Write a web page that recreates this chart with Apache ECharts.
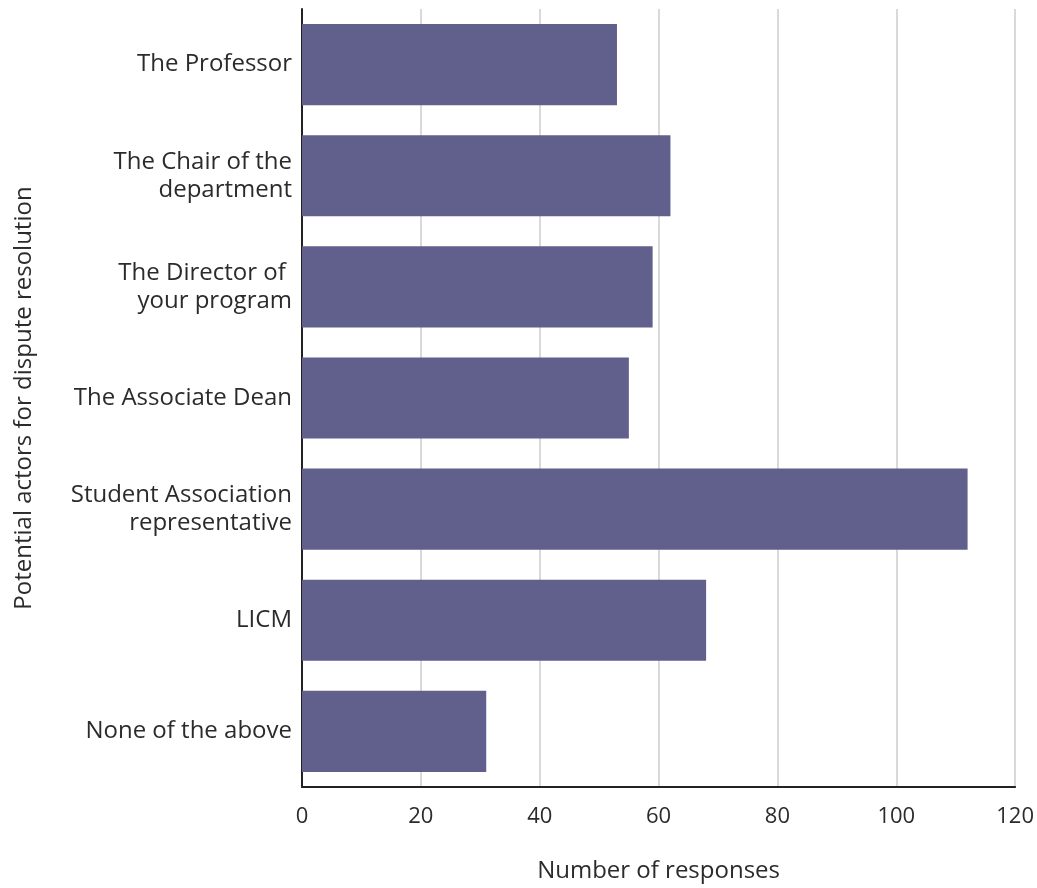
<!DOCTYPE html>
<html>
<head>
<meta charset="utf-8">
<script src="https://cdn.jsdelivr.net/npm/echarts@6/dist/echarts.min.js"></script>
<style>
  html, body { margin: 0; padding: 0; background: #fff; }
  #chart { width: 1037px; height: 888px; }
</style>
</head>
<body>
<div id="chart"></div>
<script>
// Kategorien von oben nach unten
const actors = [
  "The Professor",
  "The Chair of the\ndepartment",
  "The Director of \nyour program",
  "The Associate Dean",
  "Student Association\nrepresentative",
  "LICM",
  "None of the above"
];
const responses = [53, 62, 59, 55, 112, 68, 31];
const xTicks = [0, 20, 40, 60, 80, 100, 120];

const font = "'Open Sans', 'Noto Sans', sans-serif";
const textColor = "#2b2b2b";

const chart = echarts.init(document.getElementById("chart"));

const option = {
  animation: false,
  grid: { left: 302, right: 21, top: 9, bottom: 97, containLabel: false },
  xAxis: {
    type: "value",
    min: xTicks[0],
    max: xTicks[xTicks.length - 1],
    interval: 20,
    name: "Number of responses",
    nameLocation: "middle",
    nameGap: 72,
    nameTextStyle: { fontFamily: font, fontSize: 24, color: textColor },
    axisLine: { show: true, lineStyle: { color: "#222", width: 2 } },
    axisTick: { show: false },
    axisLabel: { fontFamily: font, fontSize: 22, color: textColor, margin: 19 },
    splitLine: { show: true, lineStyle: { color: "#d9d9d9", width: 2 } }
  },
  yAxis: {
    type: "category",
    inverse: true,
    data: actors,
    name: "Potential actors for dispute resolution",
    nameLocation: "middle",
    nameGap: 266,
    nameTextStyle: { fontFamily: font, fontSize: 24, color: textColor },
    axisLine: { show: true, lineStyle: { color: "#222", width: 2 } },
    axisTick: { show: false },
    axisLabel: {
      fontFamily: font, fontSize: 24, color: textColor,
      margin: 10, lineHeight: 28, align: "right"
    }
  },
  series: [
    {
      type: "bar",
      data: responses,
      barCategoryGap: "27%",
      itemStyle: { color: "#615f8b" }
    }
  ]
};

chart.setOption(option);
</script>
</body>
</html>
